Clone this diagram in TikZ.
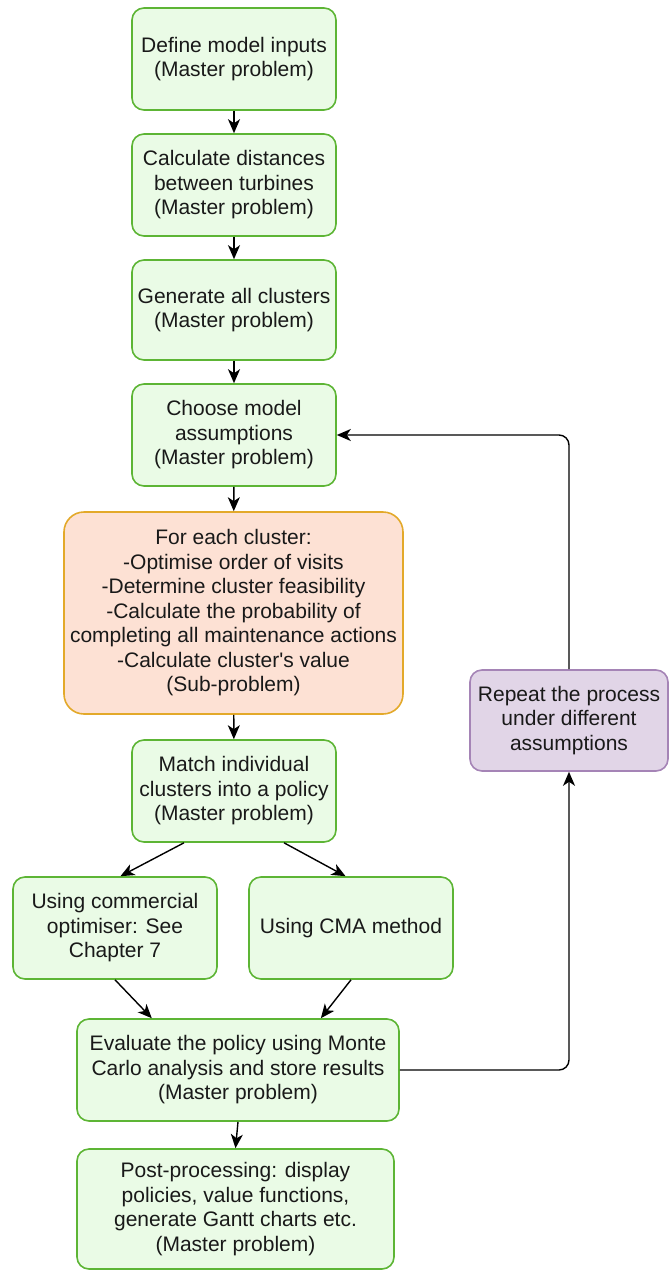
\documentclass[tikz,border=0pt]{standalone}
\usepackage{fontspec}
\setmainfont{Liberation Sans}
\usetikzlibrary{arrows.meta}

\definecolor{mastfill}{HTML}{EAFBE6}
\definecolor{mastdraw}{HTML}{5DB535}
\definecolor{subfill}{HTML}{FDE1D4}
\definecolor{subdraw}{HTML}{E3A92A}
\definecolor{repfill}{HTML}{E1D5E7}
\definecolor{repdraw}{HTML}{A584B6}

\tikzset{
  box/.style={draw, line width=1.6pt, rounded corners=12pt, align=center,
    inner sep=0pt, text=black!90,
    font=\fontsize{21pt}{24.5pt}\selectfont},
  masterbox/.style={box, fill=mastfill, draw=mastdraw,
    minimum width=204pt, minimum height=102pt},
  subbox/.style={box, fill=subfill, draw=subdraw, rounded corners=20pt,
    minimum width=339pt, minimum height=202pt},
  loopbox/.style={box, fill=repfill, draw=repdraw,
    minimum width=198pt, minimum height=101pt},
  flow/.style={-{Stealth[length=14pt,width=12pt,inset=4pt]}, line width=1.4pt}
}

\begin{document}
\begin{tikzpicture}[x=1pt,y=-1pt]
  \useasboundingbox (0,0) rectangle (669,1271);

  % main column
  \node[masterbox] (inp) at (234,59) {Define model inputs\\(Master problem)};
  \node[masterbox] (dist) at (234,185) {Calculate distances\\between turbines\\(Master problem)};
  \node[masterbox, minimum height=100pt] (clus) at (234,310) {Generate all clusters\\(Master problem)};
  \node[masterbox] (assum) at (234,435) {Choose model\\assumptions\\(Master problem)};

  % sub-problem
  \node[subbox] (sub) at (233.5,613) {For each cluster:\\-Optimise order of visits\\-Determine cluster feasibility\\-Calculate the probability of\\completing all maintenance actions\\-Calculate cluster\textquotesingle s value\\(Sub-problem)};

  \node[masterbox] (match) at (234,791) {Match individual\\clusters into a policy\\(Master problem)};

  % two ways to solve
  \node[masterbox] (comm) at (115,928) {Using commercial\\optimiser: See\\Chapter 7};
  \node[masterbox] (cma) at (351,928) {Using CMA method};

  \node[masterbox, minimum width=322pt] (eval) at (238,1070) {Evaluate the policy using Monte\\Carlo analysis and store results\\(Master problem)};
  \node[masterbox, minimum width=317pt, minimum height=120pt] (post) at (235.5,1209) {Post-processing: display\\policies, value functions,\\generate Gantt charts etc.\\(Master problem)};

  % loop back
  \node[loopbox] (rep) at (569,720.5) {Repeat the process\\under different\\assumptions};

  \draw[flow] (inp) -- (dist);
  \draw[flow] (dist) -- (clus);
  \draw[flow] (clus) -- (assum);
  \draw[flow] (assum) -- (sub);
  \draw[flow] (sub) -- (match);
  \draw[flow] (match.-134) -- (comm.84);
  \draw[flow] (match.-46) -- (cma.96);
  \draw[flow] (comm.south) -- (eval.149);
  \draw[flow] (cma.south) -- (eval.32);
  \draw[flow] (eval.south) -- (post.north);
  \draw[flow, rounded corners=10pt] (eval.east) -| (rep.south);
  \draw[flow, rounded corners=10pt] (rep.north) |- (assum.east);
\end{tikzpicture}
\end{document}
